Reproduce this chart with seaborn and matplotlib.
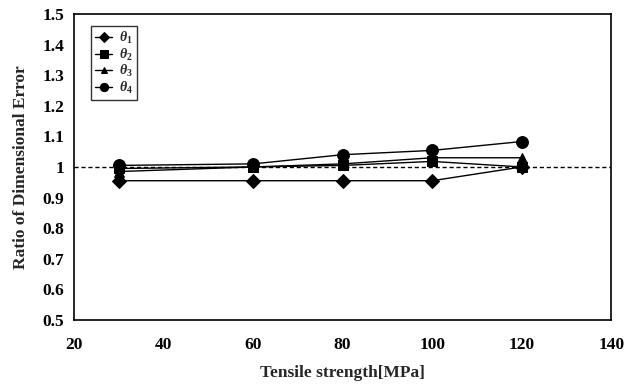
import matplotlib
matplotlib.use("Agg")
import matplotlib.pyplot as plt
import seaborn as sns
import pandas as pd

# data
strength = [30, 60, 80, 100, 120]
theta1 = [0.955, 0.955, 0.955, 0.955, 1.0]
theta2 = [0.995, 1.0, 1.005, 1.018, 1.0]
theta3 = [0.985, 1.0, 1.01, 1.03, 1.03]
theta4 = [1.005, 1.01, 1.04, 1.054, 1.083]
labels = [r"$\theta_1$", r"$\theta_2$", r"$\theta_3$", r"$\theta_4$"]
markers = ["D", "s", "^", "o"]
msizes = [7, 7.5, 7, 8.5]

sns.set_style("white")
plt.rcParams["font.family"] = ["Liberation Serif", "DejaVu Serif"]
plt.rcParams["font.weight"] = "bold"
plt.rcParams["mathtext.fontset"] = "custom"
plt.rcParams["mathtext.it"] = "Liberation Serif:italic:bold"
plt.rcParams["mathtext.rm"] = "Liberation Serif:bold"

fig = plt.figure(figsize=(6.38, 3.86), dpi=100)
ax = fig.add_axes([0.116, 0.171, 0.842, 0.793])

for vals, lab, m, ms in zip([theta1, theta2, theta3, theta4], labels, markers, msizes):
    df = pd.DataFrame({"x": strength, "y": vals})
    sns.lineplot(data=df, x="x", y="y", ax=ax, color="black", marker=m,
                 markersize=ms, markeredgecolor="black", linewidth=1.0, label=lab)

ax.axhline(1.0, color="black", linestyle=(0, (3, 2)), linewidth=1.0, zorder=1)

ax.set_xlim(20, 140)
ax.set_ylim(0.5, 1.5)
ax.set_xticks([20, 40, 60, 80, 100, 120, 140])
ax.set_yticks([0.5, 0.6, 0.7, 0.8, 0.9, 1.0, 1.1, 1.2, 1.3, 1.4, 1.5])
ax.set_yticklabels(["0.5", "0.6", "0.7", "0.8", "0.9", "1", "1.1", "1.2", "1.3", "1.4", "1.5"])
ax.tick_params(direction="in", length=3, width=0.8, labelsize=12.5, colors="black")
ax.tick_params(axis="x", pad=12)
ax.tick_params(axis="y", pad=7)
for lbl in ax.get_xticklabels() + ax.get_yticklabels():
    lbl.set_fontweight("bold")
for s in ax.spines.values():
    s.set_color("black")
    s.set_linewidth(1.2)

ax.set_xlabel("Tensile strength[MPa]", fontsize=12.5, fontweight="bold", labelpad=9)
ax.set_ylabel("Ratio of Dimensional Error", fontsize=12.5, fontweight="bold", labelpad=10)

leg = ax.legend(loc="upper left", bbox_to_anchor=(0.032, 0.96), frameon=True, fancybox=False,
                edgecolor="black", handlelength=1.2, handletextpad=0.5, borderpad=0.3,
                labelspacing=0.02, fontsize=10, markerscale=0.7, borderaxespad=0)
leg.get_frame().set_linewidth(1.0)

fig.savefig("out.png", dpi=100)
